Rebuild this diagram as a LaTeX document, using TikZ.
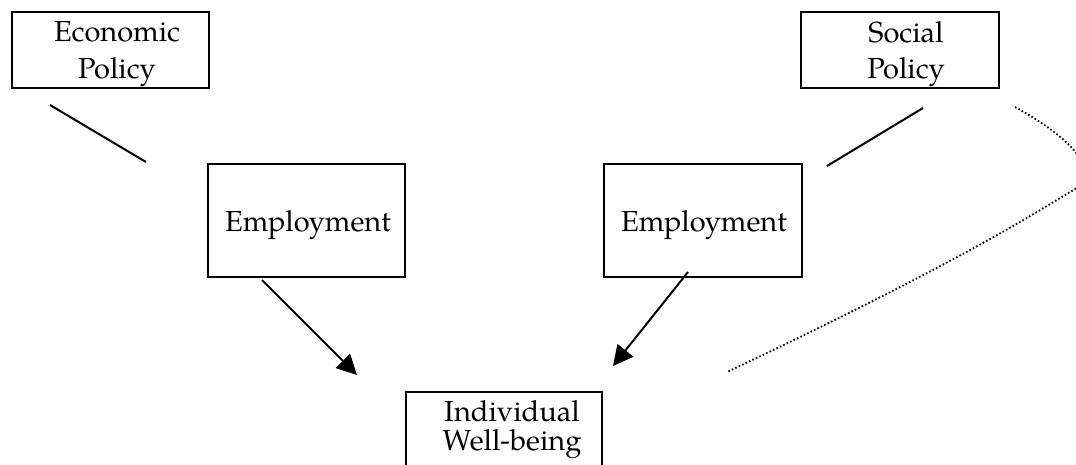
\documentclass[tikz,border=0pt]{standalone}
\usepackage{fontspec}
\setmainfont{TeX Gyre Pagella}
\usetikzlibrary{arrows.meta}
\begin{document}
\begin{tikzpicture}[x=1pt,y=-1pt,
  box/.style={draw, line width=2pt, inner sep=0pt},
  lbl/.style={anchor=base, inner sep=0pt, font=\fontsize{29}{34}\selectfont},
  conn/.style={line width=2pt},
  arr/.style={conn, -{Triangle[length=20pt,width=20pt]}},
  dots/.style={line width=1.8pt, dash pattern=on 1.6pt off 2.2pt}]
\useasboundingbox (0,0) rectangle (1076,464);
\clip (0,0) rectangle (1076,464);
% boxes
\node[box, minimum width=197pt, minimum height=76pt] (econ) at (110.5,50) {};
\node[box, minimum width=198pt, minimum height=76pt] (social) at (900,50) {};
\node[box, minimum width=197pt, minimum height=113pt] (emp1) at (306.5,220.5) {};
\node[box, minimum width=198pt, minimum height=113pt] (emp2) at (703,220.5) {};
\node[box, minimum width=196pt, minimum height=90pt] (indiv) at (504,437) {};
% texts
\node[lbl] (econ1) at (117,41) {Economic};
\node[lbl] (econ2) at (117,78) {Policy};
\node[lbl] (soc1) at (906,42) {Social};
\node[lbl] (soc2) at (906,78) {Policy};
\node[lbl] (emp1t) at (308,231) {Employment};
\node[lbl] (emp2t) at (704,231) {Employment};
\node[lbl] (ind1) at (512,421) {Individual};
\node[lbl] (ind2) at (512,450) {Well-being};
% connector ends
\coordinate (e1) at (50,105);
\coordinate (e2) at (146,162);
\coordinate (s1) at (923,108);
\coordinate (s2) at (827,166);
\coordinate (a1s) at (262,280);
\coordinate (a1e) at (357,375);
\coordinate (a2s) at (688,272);
\coordinate (a2e) at (613,366);
\coordinate (d1) at (1015,107);
\coordinate (dm) at (1070,192);
\coordinate (d2) at (727,372);
% connectors
\draw[conn] (e1) -- (e2);
\draw[conn] (s1) -- (s2);
\draw[arr] (a1s) -- (a1e);
\draw[arr] (a2s) -- (a2e);
\draw[dots] (d1) .. controls (1075,140) and (1105,175) .. (dm)
  .. controls (1040,210) and (960,262) .. (d2);
\end{tikzpicture}
\end{document}
